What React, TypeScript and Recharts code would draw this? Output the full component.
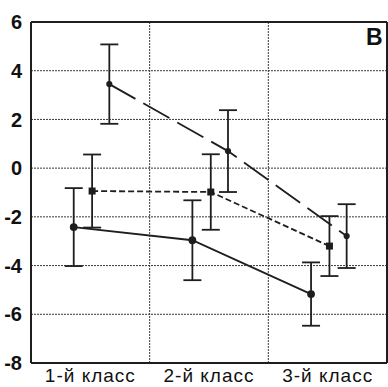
import React from 'react';
import { ComposedChart, Line, XAxis, YAxis, CartesianGrid, ErrorBar, ReferenceLine } from 'recharts';

const categories = ['1-й класс', '2-й класс', '3-й класс'];
const yTicks = [-8, -6, -4, -2, 0, 2, 4, 6];

const seriesA = [-2.42, -2.96, -5.17];
const errA = [1.6, 1.64, 1.3];
const seriesB = [-0.94, -0.98, -3.2];
const errB = [1.5, 1.55, 1.23];
const seriesC = [3.45, 0.7, -2.79];
const errC = [1.63, 1.68, 1.31];

const build = (vals: number[], errs: number[], off: number) =>
  vals.map((v, i) => ({ x: i + 0.5 + off, y: v, e: errs[i] }));

const dataA = build(seriesA, errA, -0.14);
const dataB = build(seriesB, errB, 0.015);
const dataC = build(seriesC, errC, 0.16);

const INK = '#1e1e1e';
const FONT = 'Liberation Sans, Arial, sans-serif';

const SquareDot = (props: any) => {
  const { cx, cy } = props;
  if (cx == null || cy == null) return null;
  return <rect x={cx - 3.5} y={cy - 3.5} width={7} height={7} fill={INK} />;
};

export default function App() {
  return (
    <div style={{ position: 'absolute', left: 0, top: 0, width: 388, height: 387, background: '#fff' }}>
      <ComposedChart width={388} height={387} margin={{ top: 22, right: 1, left: 0, bottom: 0 }}>
        <CartesianGrid vertical={false} stroke="#3a3a3a" strokeDasharray="2 1" strokeWidth={1} />
        <XAxis
          type="number"
          dataKey="x"
          domain={[0, 3]}
          ticks={[0.5, 1.5, 2.5]}
          tickFormatter={(v: number) => categories[Math.round(v - 0.5)]}
          height={24}
          tickLine={false}
          axisLine={{ stroke: INK, strokeWidth: 2 }}
          tick={{ fill: '#111', fontSize: 19, fontFamily: FONT, letterSpacing: 1 }}
          tickMargin={0}
        />
        <YAxis
          type="number"
          dataKey="y"
          domain={[-8, 6]}
          ticks={yTicks}
          width={31}
          tickLine={false}
          axisLine={{ stroke: INK, strokeWidth: 2 }}
          tick={{ fill: '#111', fontSize: 20, fontWeight: 'bold', fontFamily: FONT }}
          tickMargin={3}
          interval={0}
        />
        <ReferenceLine x={1} stroke="#3a3a3a" strokeDasharray="2 1" />
        <ReferenceLine x={2} stroke="#3a3a3a" strokeDasharray="2 1" />
        <ReferenceLine y={6} stroke={INK} strokeWidth={2} />
        <ReferenceLine x={3} stroke={INK} strokeWidth={2} />
        <Line
          data={dataA}
          dataKey="y"
          stroke={INK}
          strokeWidth={1.8}
          dot={{ r: 3, fill: INK, stroke: INK }}
          isAnimationActive={false}
        >
          <ErrorBar dataKey="e" width={9} stroke={INK} strokeWidth={1.8} direction="y" />
        </Line>
        <Line
          data={dataB}
          dataKey="y"
          stroke={INK}
          strokeWidth={1.8}
          strokeDasharray="6 3"
          dot={<SquareDot />}
          isAnimationActive={false}
        >
          <ErrorBar dataKey="e" width={9} stroke={INK} strokeWidth={1.8} direction="y" />
        </Line>
        <Line
          data={dataC}
          dataKey="y"
          stroke={INK}
          strokeWidth={1.8}
          strokeDasharray="30 9"
          dot={{ r: 2.2, fill: INK, stroke: INK }}
          isAnimationActive={false}
        >
          <ErrorBar dataKey="e" width={9} stroke={INK} strokeWidth={1.8} direction="y" />
        </Line>
        <text x={366} y={45} fontSize={23} fontWeight="bold" fill="#111" fontFamily={FONT}>
          В
        </text>
      </ComposedChart>
    </div>
  );
}
